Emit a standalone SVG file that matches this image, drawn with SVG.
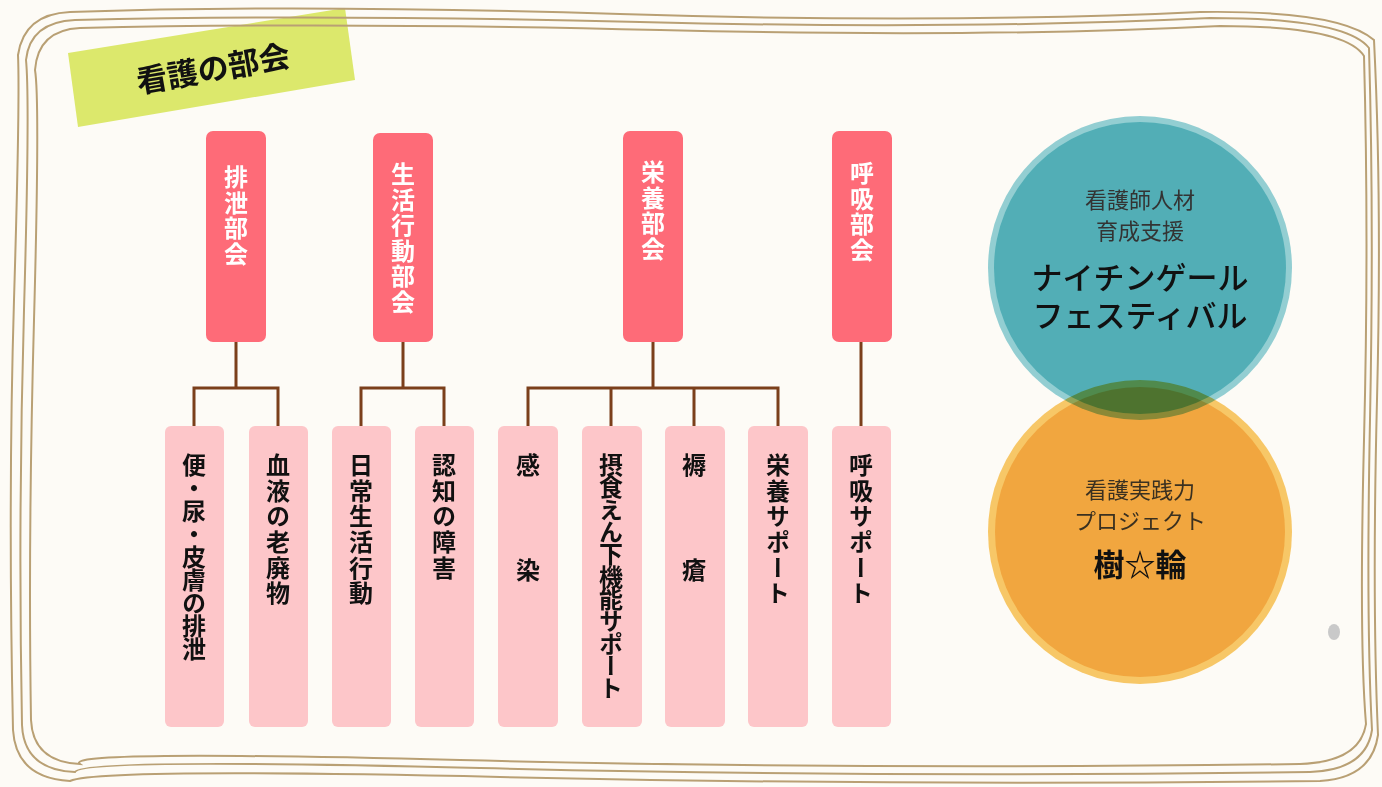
<svg xmlns="http://www.w3.org/2000/svg" width="1382" height="787" viewBox="0 0 1382 787">
<style>
.frame{fill:none;stroke:#b9a074;stroke-width:2}
.head{fill:#fe6b78}
.sub{fill:#fdc6c9}
.ht{font-family:"Noto Sans CJK JP","Noto Sans",sans-serif;font-weight:700;font-size:24px;fill:#fff;writing-mode:vertical-rl;letter-spacing:1.5px}
.st{font-family:"Noto Sans CJK JP","Noto Sans",sans-serif;font-weight:700;font-size:24px;fill:#111;writing-mode:vertical-rl;letter-spacing:1.6px}
.conn{fill:none;stroke:#7b3f1b;stroke-width:3}
.ct{font-family:"Noto Sans CJK JP","Noto Sans",sans-serif;text-anchor:middle}
</style>
<rect width="1382" height="787" fill="#fdfbf6"/>
<g id="tag">
<polygon points="68,53 345,8 355,80 78,127" fill="#dce86c"/>
<text x="213" y="80" transform="rotate(-10 213 68)" class="ct" font-size="31" font-weight="700" fill="#111">看護の部会</text>
</g>
<g id="frame">
<path class="frame" d="M70 12 Q300 4 620 14 T1200 12 Q1340 10 1374 40 Q1382 200 1377 400 T1378 735 Q1372 778 1320 781 Q900 786 500 777 T70 781 Q16 778 13 730 Q8 500 14 300 T18 55 Q24 14 70 12 Z"/>
<path class="frame" d="M75 20 Q320 14 640 22 T1210 18 Q1345 18 1369 48 Q1374 220 1370 420 T1372 730 Q1366 770 1310 772 Q880 778 480 768 T75 772 Q24 770 22 725 Q18 520 24 310 T26 60 Q30 22 75 20 Z"/>
<path class="frame" d="M80 28 Q340 22 660 30 T1220 26 Q1345 26 1364 56 Q1369 240 1364 440 T1366 724 Q1360 762 1300 764 Q860 770 460 760 T80 764 Q33 762 31 720 Q28 540 34 320 T35 70 Q38 30 80 28 Z"/>
</g>
<g id="connectors">
<path class="conn" d="M236 342 V388 M194 426 V388 H278 V426"/>
<path class="conn" d="M403 342 V388 M361 426 V388 H444 V426"/>
<path class="conn" d="M653 342 V388 M528 426 V388 H778 V426 M611 388 V426 M694 388 V426"/>
<path class="conn" d="M861 342 V426"/>
</g>
<g id="h1"><rect class="head" x="206" y="131" width="60" height="211" rx="7"/><text class="ht" x="236" y="165">排泄部会</text></g>
<g id="h2"><rect class="head" x="373" y="133" width="60" height="209" rx="7"/><text class="ht" x="403" y="162">生活行動部会</text></g>
<g id="h3"><rect class="head" x="623" y="131" width="60" height="211" rx="7"/><text class="ht" x="653" y="160">栄養部会</text></g>
<g id="h4"><rect class="head" x="832" y="131" width="60" height="211" rx="7"/><text class="ht" x="862" y="161">呼吸部会</text></g>
<g id="s1"><rect class="sub" x="165" y="426" width="59" height="301" rx="6"/><text class="st" x="194" y="453 476 499 522 545 568 591 614 637" style="letter-spacing:0">便・尿・皮膚の排泄</text></g>
<g id="s2"><rect class="sub" x="249" y="426" width="59" height="301" rx="6"/><text class="st" x="278" y="453">血液の老廃物</text></g>
<g id="s3"><rect class="sub" x="332" y="426" width="59" height="301" rx="6"/><text class="st" x="361" y="453">日常生活行動</text></g>
<g id="s4"><rect class="sub" x="415" y="426" width="59" height="301" rx="6"/><text class="st" x="444" y="453">認知の障害</text></g>
<g id="s5"><rect class="sub" x="498" y="426" width="60" height="301" rx="6"/><text class="st" x="528" y="453">感</text><text class="st" x="528" y="558">染</text></g>
<g id="s6"><rect class="sub" x="582" y="426" width="60" height="301" rx="6"/><text class="st" x="611" y="453" style="letter-spacing:-1.7px">摂食えん下機能サポート</text></g>
<g id="s7"><rect class="sub" x="665" y="426" width="60" height="301" rx="6"/><text class="st" x="694" y="453">褥</text><text class="st" x="694" y="558">瘡</text></g>
<g id="s8"><rect class="sub" x="748" y="426" width="60" height="301" rx="6"/><text class="st" x="778" y="453">栄養サポート</text></g>
<g id="s9"><rect class="sub" x="832" y="426" width="59" height="301" rx="6"/><text class="st" x="861" y="453">呼吸サポート</text></g>
<g id="c2">
<circle cx="1140" cy="532" r="152" fill="#f7c767"/>
<circle cx="1140" cy="532" r="145" fill="#f1a63f"/>
</g>
<g id="c1" style="mix-blend-mode:multiply">
<circle cx="1140" cy="268" r="152" fill="#94d2da"/>
<circle cx="1140" cy="268" r="146" fill="#52b1bd"/>
</g>
<g id="c1t">
<text class="ct" font-size="22" fill="#333"><tspan x="1140" y="208">看護師人材</tspan><tspan x="1140" y="239">育成支援</tspan></text>
<text class="ct" font-size="31" font-weight="500" fill="#111"><tspan x="1140" y="289">ナイチンゲール</tspan><tspan x="1140" y="327">フェスティバル</tspan></text>
</g>
<g id="c2t">
<text class="ct" font-size="22" fill="#3a3020"><tspan x="1140" y="498">看護実践力</tspan><tspan x="1140" y="529">プロジェクト</tspan></text>
<text class="ct" x="1140" y="576" font-size="31" font-weight="700" fill="#111">樹☆輪</text>
</g>
<ellipse cx="1334" cy="632" rx="6" ry="8" fill="#c9c9c9"/>
</svg>
